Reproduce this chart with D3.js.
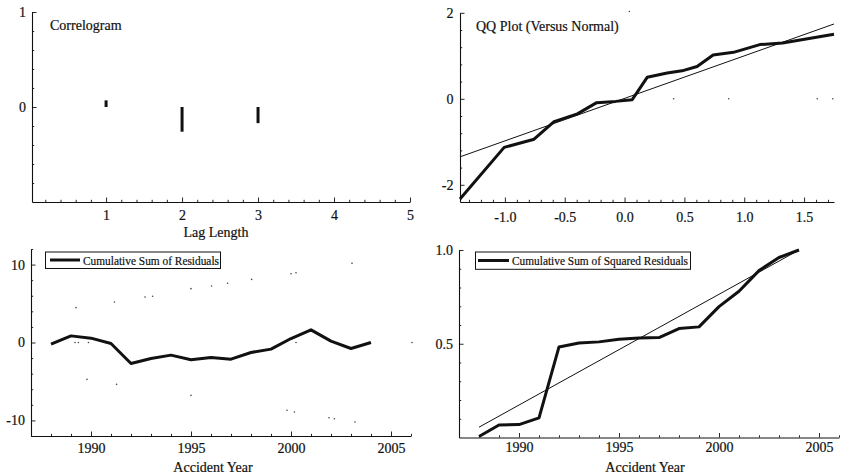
<!DOCTYPE html>
<html>
<head>
<meta charset="utf-8">
<script src="https://cdn.jsdelivr.net/npm/d3@7/dist/d3.min.js"></script>
<style>
  body { margin: 0; background: #fff; }
  svg text { font-family: "Liberation Serif", "Times New Roman", serif; font-size: 14px; fill: #111; stroke: #111; stroke-width: 0.2px; }
</style>
</head>
<body>
<svg id="chart" width="842" height="476"></svg>
<script>
// ---- Correlogram ----
const lags = [1, 2, 3];
const autocorr = [0.07, -0.26, -0.17];
const lagTicks = [1, 2, 3, 4, 5];
const corrTicks = [0, 1];

// ---- QQ plot (versus normal) ----
const qqNormal   = [-1.375, -1.006, -0.756, -0.589, -0.394, -0.233, -0.075, 0.064, 0.189, 0.356, 0.48, 0.606, 0.74, 0.91, 1.13, 1.32, 1.75];
const qqResidual = [-2.33, -1.13, -0.94, -0.53, -0.35, -0.09, -0.06, -0.02, 0.50, 0.60, 0.65, 0.75, 1.02, 1.08, 1.26, 1.30, 1.50];
const qqRefX = [-1.375, 1.75];
const qqRefY = [-1.35, 1.74];
const qqDotsX = [0.41, 0.87, 1.61, 1.74, 0.04];
const qqDotsY = [0, 0, 0, 0, 2.03];
const qqXTicks = [-1.0, -0.5, 0.0, 0.5, 1.0, 1.5];
const qqYTicks = [-2, 0, 2];

// ---- Cumulative sums by accident year ----
const years = [1988, 1989, 1990, 1991, 1992, 1993, 1994, 1995, 1996, 1997, 1998, 1999, 2000, 2001, 2002, 2003, 2004];
const cusumResid = [-0.21, 0.85, 0.56, -0.13, -2.69, -2.05, -1.62, -2.22, -1.92, -2.14, -1.28, -0.85, 0.51, 1.62, 0.17, -0.77, 0.0];
const cusumSq = [0.005, 0.067, 0.069, 0.105, 0.483, 0.504, 0.51, 0.524, 0.531, 0.533, 0.581, 0.59, 0.698, 0.78, 0.89, 0.96, 1.0];
const sqRefYears = [1988, 2004];
const sqRefValues = [0.055, 1.0];
// faint remnants of the dotted bound / zero lines
const boundDotYears  = [1989.25, 1991.17, 1992.7, 1993.08, 1995.0, 1996.03, 1996.83, 1998.03, 2000.0, 2000.25, 2003.05,
                        1989.8, 1991.28, 1995.0, 1999.8, 2000.17, 2001.9, 2002.17, 2003.2,
                        1989.2, 1989.37, 1989.87, 2000.25, 2006.05];
const boundDotValues = [4.47, 5.2, 5.84, 5.93, 6.91, 7.25, 7.6, 8.1, 8.83, 8.96, 10.16,
                        -4.73, -5.37, -6.78, -8.7, -8.92, -9.65, -9.78, -10.2,
                        0, 0, 0, 0, 0];
const yearTicks = [1990, 1995, 2000, 2005];
const cusumTicks = [-10, 0, 10];
const sqTicks = [0.5, 1.0];

const svg = d3.select("#chart");

// Frame-style axes: left and bottom only, ticks pointing inward, major + minor.
function drawAxes(x, y, o) {
  const g = svg.append("g");
  const xAt = y.range()[0], yAt = x.range()[0];
  const clean = a => a.attr("font-size", null).attr("font-family", null);

  g.append("g").attr("transform", `translate(0,${xAt})`)
    .call(d3.axisBottom(x).tickValues(o.xMinor).tickSize(-2.2).tickSizeOuter(0).tickFormat(""))
    .call(a => a.select(".domain").remove());
  g.append("g").attr("transform", `translate(0,${xAt})`)
    .call(d3.axisBottom(x).tickValues(o.xMajor).tickSize(-4.5).tickSizeOuter(0)
      .tickPadding(o.xPad).tickFormat(o.xFmt))
    .call(clean);

  g.append("g").attr("transform", `translate(${yAt},0)`)
    .call(d3.axisLeft(y).tickValues(o.yMinor).tickSize(-2.2).tickSizeOuter(0).tickFormat(""))
    .call(a => a.select(".domain").remove());
  g.append("g").attr("transform", `translate(${yAt},0)`)
    .call(d3.axisLeft(y).tickValues(o.yMajor).tickSize(-4.5).tickSizeOuter(0)
      .tickPadding(o.yPad).tickFormat(o.yFmt))
    .call(clean);

  g.selectAll("path.domain").attr("stroke", "#111").attr("stroke-width", 1.1);
  g.selectAll(".tick line").attr("stroke", "#111").attr("stroke-width", 0.9);
  return g;
}

const minorSteps = (lo, hi, step, skip) =>
  d3.range(Math.round(lo / step), Math.round(hi / step) + 1)
    .map(k => +(k * step).toFixed(6))
    .filter(v => Math.abs(v / skip - Math.round(v / skip)) > 1e-6);

const minus = s => s.replace("\u2212", "-");

// ================= Panel 1: Correlogram =================
{
  const x = d3.scaleLinear().domain([0.025, 5]).range([32, 410]);
  const y = d3.scaleLinear().domain([-1, 1]).range([202, 12]);
  drawAxes(x, y, {
    xMajor: lagTicks, xMinor: minorSteps(0.2, 4.8, 0.2, 1), xPad: 8.5, xFmt: d3.format("d"),
    yMajor: corrTicks, yMinor: minorSteps(-0.8, 0.8, 0.2, 1), yPad: 6, yFmt: d3.format("d")
  });
  svg.append("g").selectAll("line").data(lags).join("line")
    .attr("x1", d => x(d)).attr("x2", d => x(d))
    .attr("y1", y(0)).attr("y2", (d, i) => y(autocorr[i]))
    .attr("stroke", "#111").attr("stroke-width", 3).attr("stroke-linecap", "butt");
  svg.append("text").attr("x", 50).attr("y", 30).text("Correlogram");
  svg.append("text").attr("x", 216).attr("y", 237).attr("text-anchor", "middle").text("Lag Length");
}

// ================= Panel 2: QQ plot =================
{
  const x = d3.scaleLinear().domain([-1.375, 1.75]).range([460, 834]);
  const y = d3.scaleLinear().domain([-2.4, 2]).range([202, 12.8]);
  drawAxes(x, y, {
    xMajor: qqXTicks, xMinor: minorSteps(-1.3, 1.7, 0.1, 0.5), xPad: 10.5, xFmt: d => minus(d3.format(".1f")(d)),
    yMajor: qqYTicks, yMinor: minorSteps(-1.6, 1.6, 0.4, 2), yPad: 6.5, yFmt: d => minus(d3.format("d")(d))
  });
  svg.append("g").selectAll("circle").data(qqDotsX).join("circle")
    .attr("cx", d => x(d)).attr("cy", (d, i) => y(qqDotsY[i])).attr("r", 0.8).attr("fill", "#444");
  const ref = d3.line().x(d => x(d[0])).y(d => y(d[1]));
  svg.append("path").attr("d", ref(qqRefX.map((v, i) => [v, qqRefY[i]])))
    .attr("fill", "none").attr("stroke", "#111").attr("stroke-width", 1);
  const curve = d3.line().x(d => x(d[0])).y(d => y(d[1]));
  svg.append("path").attr("d", curve(qqNormal.map((v, i) => [v, qqResidual[i]])))
    .attr("fill", "none").attr("stroke", "#111").attr("stroke-width", 3).attr("stroke-linejoin", "round");
  svg.append("text").attr("x", 476).attr("y", 30.5).text("QQ Plot (Versus Normal)");
}

// ================= Panel 3: Cumulative sum of residuals =================
{
  const x = d3.scaleLinear().domain([1987, 2006]).range([31, 411]);
  const y = d3.scaleLinear().domain([-12, 12]).range([436, 249]);
  drawAxes(x, y, {
    xMajor: yearTicks, xMinor: minorSteps(1988, 2006, 1, 5), xPad: 7, xFmt: d3.format("d"),
    yMajor: cusumTicks, yMinor: minorSteps(-12, 12, 2, 10), yPad: 6, yFmt: d => minus(d3.format("d")(d))
  });
  svg.append("g").selectAll("circle").data(boundDotYears).join("circle")
    .attr("cx", d => x(d)).attr("cy", (d, i) => y(boundDotValues[i])).attr("r", 0.8).attr("fill", "#444");
  const line = d3.line().x((d, i) => x(years[i])).y(d => y(d));
  svg.append("path").attr("d", line(cusumResid))
    .attr("fill", "none").attr("stroke", "#111").attr("stroke-width", 3).attr("stroke-linejoin", "round");
  // legend
  const lg = svg.append("g");
  lg.append("rect").attr("x", 45.5).attr("y", 252).attr("width", 175).attr("height", 16.5)
    .attr("fill", "#fff").attr("stroke", "#111").attr("stroke-width", 1);
  lg.append("line").attr("x1", 50).attr("x2", 80).attr("y1", 260).attr("y2", 260)
    .attr("stroke", "#111").attr("stroke-width", 3);
  lg.append("text").attr("x", 83).attr("y", 264.5).style("font-size", "12px")
    .attr("textLength", 136).attr("lengthAdjust", "spacingAndGlyphs").text("Cumulative Sum of Residuals");
  svg.append("text").attr("x", 213).attr("y", 472).attr("text-anchor", "middle").text("Accident Year");
}

// ================= Panel 4: Cumulative sum of squared residuals =================
{
  const x = d3.scaleLinear().domain([1987, 2006]).range([459, 839]);
  const y = d3.scaleLinear().domain([0, 1]).range([437.5, 250]);
  drawAxes(x, y, {
    xMajor: yearTicks, xMinor: minorSteps(1988, 2006, 1, 5), xPad: 5, xFmt: d3.format("d"),
    yMajor: sqTicks, yMinor: minorSteps(0.1, 0.9, 0.1, 0.5), yPad: 6, yFmt: d3.format(".1f")
  });
  const ref = d3.line().x((d, i) => x(sqRefYears[i])).y(d => y(d));
  svg.append("path").attr("d", ref(sqRefValues))
    .attr("fill", "none").attr("stroke", "#111").attr("stroke-width", 1);
  const line = d3.line().x((d, i) => x(years[i])).y(d => y(d));
  svg.append("path").attr("d", line(cusumSq))
    .attr("fill", "none").attr("stroke", "#111").attr("stroke-width", 3).attr("stroke-linejoin", "round");
  const lg = svg.append("g");
  lg.append("rect").attr("x", 475.5).attr("y", 252).attr("width", 215).attr("height", 17.3)
    .attr("fill", "#fff").attr("stroke", "#111").attr("stroke-width", 1);
  lg.append("line").attr("x1", 478).attr("x2", 509).attr("y1", 260.5).attr("y2", 260.5)
    .attr("stroke", "#111").attr("stroke-width", 3);
  lg.append("text").attr("x", 512).attr("y", 265).style("font-size", "12px")
    .attr("textLength", 176).attr("lengthAdjust", "spacingAndGlyphs").text("Cumulative Sum of Squared Residuals");
  svg.append("text").attr("x", 645).attr("y", 472).attr("text-anchor", "middle").text("Accident Year");
}
</script>
</body>
</html>
